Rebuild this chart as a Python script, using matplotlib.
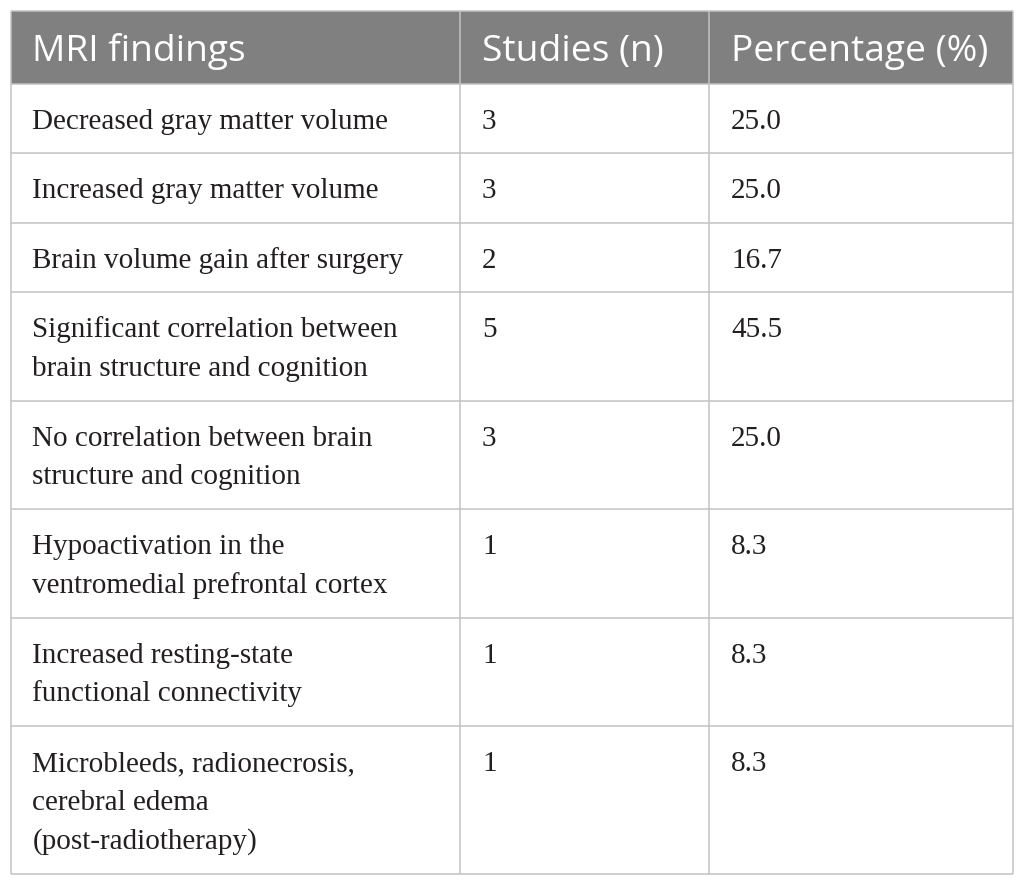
import matplotlib
matplotlib.use("Agg")
import matplotlib.pyplot as plt
from matplotlib.patches import Rectangle

# ---- data ----
headers = ["MRI findings", "Studies (n)", "Percentage (%)"]
findings = [
    "Decreased gray matter volume",
    "Increased gray matter volume",
    "Brain volume gain after surgery",
    "Significant correlation between\nbrain structure and cognition",
    "No correlation between brain\nstructure and cognition",
    "Hypoactivation in the\nventromedial prefrontal cortex",
    "Increased resting-state\nfunctional connectivity",
    "Microbleeds, radionecrosis,\ncerebral edema\n(post-radiotherapy)",
]
studies = [3, 3, 2, 5, 3, 1, 1, 1]
percentages = [25.0, 25.0, 16.7, 45.5, 25.0, 8.3, 8.3, 8.3]

# ---- layout / style ----
W, H = 1025, 886
col_edges = [10.5, 460, 709, 1013]
top = 10.5
header_h = 73.5
pad_x = 22
line_gap = 38.6
first_base = 45
row_base_h = 30
row_line_h = 39.3

header_color = "#808080"
grid_color = "#c2c2c2"
text_color = "#231f20"

fig = plt.figure(figsize=(W / 100, H / 100), dpi=100)
ax = fig.add_axes([0, 0, 1, 1])
ax.set_xlim(0, W)
ax.set_ylim(H, 0)
ax.axis("off")

# header
ax.add_patch(Rectangle((col_edges[0], top), col_edges[-1] - col_edges[0], header_h,
                       facecolor=header_color, edgecolor="none", zorder=1))
for j, h in enumerate(headers):
    ax.text(col_edges[j] + pad_x, top + 50, h, color="white", fontsize=26.7,
            family="Open Sans", va="baseline", ha="left", zorder=3)

# body rows
y = top + header_h
row_lines = [top, y]
for f, s, p in zip(findings, studies, percentages):
    lines = f.split("\n")
    n = len(lines)
    cells = [lines, [str(s)], [f"{p:.1f}"]]
    for j, cell in enumerate(cells):
        for k, ln in enumerate(cell):
            ax.text(col_edges[j] + pad_x, y + first_base + k * line_gap, ln,
                    color=text_color, fontsize=21, family="Liberation Serif",
                    va="baseline", ha="left", zorder=3)
    y += row_base_h + row_line_h * n
    row_lines.append(y)

bottom = y
lw = 1.1
for yy in row_lines:
    ax.plot([col_edges[0], col_edges[-1]], [yy, yy], color=grid_color, lw=lw, zorder=2,
            solid_capstyle="butt")
for xx in col_edges:
    ax.plot([xx, xx], [top, bottom], color=grid_color, lw=lw, zorder=2,
            solid_capstyle="butt")

fig.savefig("out.png", dpi=100, facecolor="white")
